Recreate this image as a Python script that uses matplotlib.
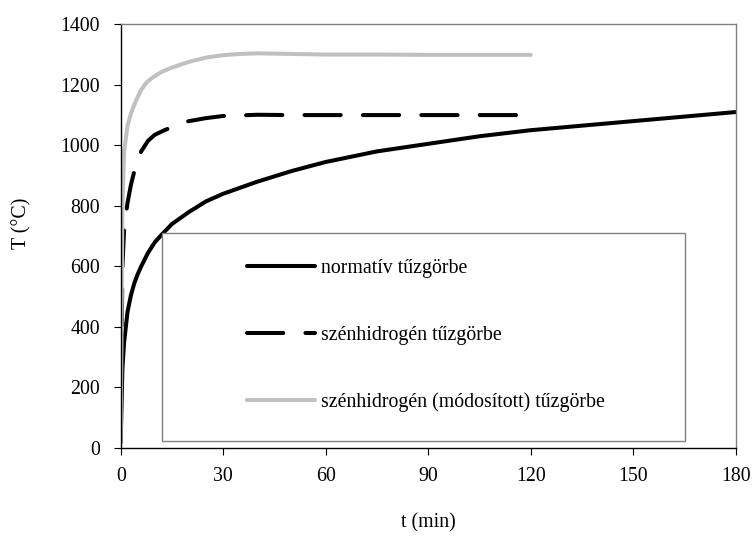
import matplotlib
matplotlib.use('Agg')
import matplotlib.pyplot as plt
from matplotlib.patches import Rectangle

plt.rcParams['font.family'] = ['Liberation Serif', 'DejaVu Serif']
plt.rcParams['font.size'] = 14.3

# normatív tűzgörbe
t_norm = [0, 0.5, 1, 2, 3, 4, 5, 6, 8, 10, 12, 15, 20, 25, 30, 40, 50, 60,
          75, 90, 105, 120, 135, 150, 165, 180]
T_norm = [20, 262, 350, 450, 505, 545, 575, 600, 645, 680, 705, 740, 780, 815,
          840, 880, 915, 945, 980, 1005, 1030, 1050, 1065, 1080, 1095, 1110]

# szénhidrogén tűzgörbe
t_hc = [0, 0.5, 1, 1.5, 2, 3, 4, 5, 6, 8, 10, 13, 15, 19, 25, 30, 40, 50, 60,
        75, 90, 105, 120]
T_hc = [20, 600, 720, 770, 810, 870, 915, 950, 980, 1015, 1035, 1051, 1060,
        1078, 1090, 1097, 1101, 1100, 1100, 1100, 1100, 1100, 1100]

# szénhidrogén (módosított) tűzgörbe
t_hcm = [0, 0.5, 1, 2, 3, 4, 5, 6, 7, 8, 9, 10, 12, 15, 20, 25, 30, 35, 40,
         50, 60, 75, 90, 105, 120]
T_hcm = [20, 800, 980, 1065, 1105, 1135, 1160, 1183, 1200, 1212, 1221, 1229,
         1243, 1257, 1276, 1290, 1298, 1302, 1304, 1302, 1300, 1300, 1299,
         1299, 1299]

labels = ['normatív tűzgörbe', 'szénhidrogén tűzgörbe',
          'szénhidrogén (módosított) tűzgörbe']

fig = plt.figure(figsize=(7.52, 5.36), dpi=100)
ax = fig.add_axes([0.1605, 0.1642, 0.8178, 0.7905])

lw = 2.9
l1, = ax.plot(t_norm, T_norm, color='black', lw=lw, solid_capstyle='round',
              solid_joinstyle='round')
l2, = ax.plot(t_hc, T_hc, color='black', lw=lw, ls=(0, (9, 5.5)),
              dash_capstyle='round', dash_joinstyle='round')
l3, = ax.plot(t_hcm, T_hcm, color='#c0c0c0', lw=lw, solid_capstyle='round',
              solid_joinstyle='round')

ax.set_xlim(0, 180)
ax.set_ylim(0, 1400)
ax.set_xticks(range(0, 181, 30))
ax.set_yticks(range(0, 1401, 200))
ax.tick_params(axis='both', direction='out', length=5, width=0.8, color='black')
ax.tick_params(axis='y', pad=10)
ax.tick_params(axis='x', pad=8.6)

for s in ['left', 'bottom']:
    ax.spines[s].set_color('black')
    ax.spines[s].set_linewidth(1.0)
for s in ['top', 'right']:
    ax.spines[s].set_color('#808080')
    ax.spines[s].set_linewidth(1.0)

ax.set_xlabel('t (min)', labelpad=20)
ax.set_ylabel('T (°C)')
ax.yaxis.set_label_coords(-0.161, 0.531)
ax.yaxis.label.set_va('center')

# jelmagyarázat kerete
box = Rectangle((0.0671, 0.0171), 0.8504, 0.4892, transform=ax.transAxes,
                facecolor='white', edgecolor='#808080', lw=1.0, zorder=5)
ax.add_patch(box)
leg = ax.legend([l1, l2, l3], labels, loc='upper left',
                bbox_to_anchor=(0.2054, 0.446), frameon=False,
                handlelength=3.42, handletextpad=0.3, labelspacing=2.4,
                borderpad=0, borderaxespad=0)
leg.set_zorder(6)

fig.savefig('out.png', dpi=100)
